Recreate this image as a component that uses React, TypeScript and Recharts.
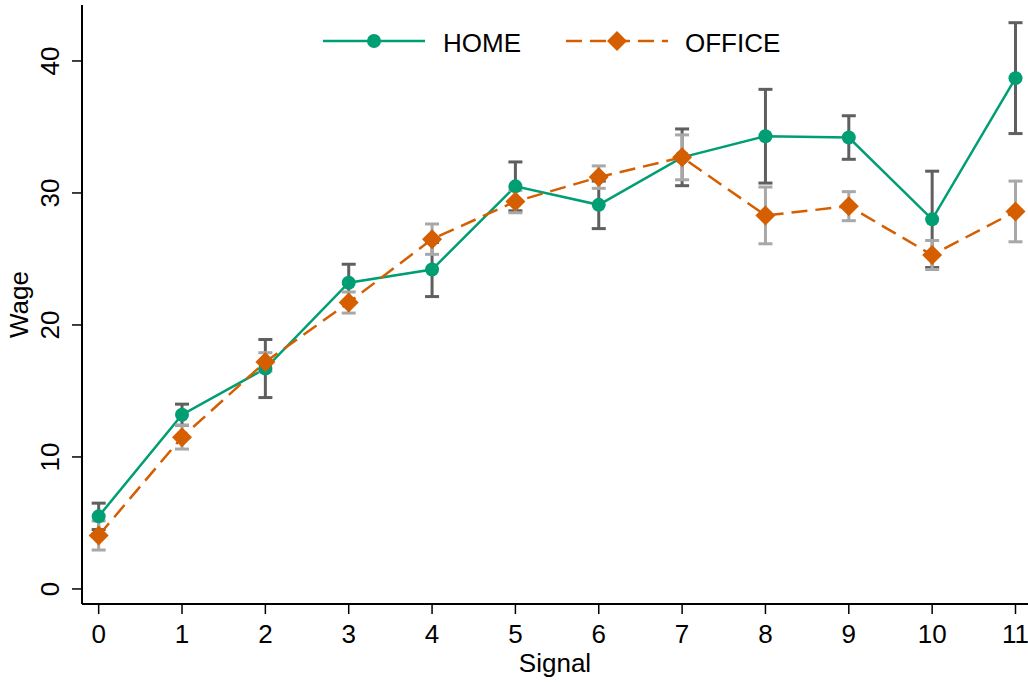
import { ErrorBar, Legend, Line, LineChart, XAxis, YAxis } from "recharts";

const signals = [0, 1, 2, 3, 4, 5, 6, 7, 8, 9, 10, 11];
const homeWage = [5.5, 13.2, 16.7, 23.2, 24.2, 30.5, 29.1, 32.7, 34.3, 34.2, 28.0, 38.7];
const homeErr = [1.0, 0.8, 2.2, 1.4, 2.05, 1.85, 1.8, 2.15, 3.55, 1.65, 3.65, 4.2];
const officeWage = [4.05, 11.5, 17.2, 21.7, 26.5, 29.35, 31.2, 32.7, 28.3, 29.0, 25.3, 28.6];
const officeErr = [1.1, 0.9, 0.7, 0.8, 1.15, 0.85, 0.85, 1.7, 2.15, 1.1, 1.1, 2.3];
const yTicks = [0, 10, 20, 30, 40];

const GREEN = "#009e73";
const ORANGE = "#d55e00";
const FONT = "'Liberation Sans', Arial, Helvetica, sans-serif";

const data = signals.map((s, i) => ({
  signal: s,
  home: homeWage[i],
  homeErr: homeErr[i],
  office: officeWage[i],
  officeErr: officeErr[i],
}));

function HomeDot(props: any) {
  const { cx, cy, index } = props;
  return <circle key={`h${index}`} cx={cx} cy={cy} r={7} fill={GREEN} />;
}

function OfficeDot(props: any) {
  const { cx, cy, index } = props;
  const r = 10;
  return (
    <path
      key={`o${index}`}
      d={`M${cx},${cy - r}L${cx + r},${cy}L${cx},${cy + r}L${cx - r},${cy}Z`}
      fill={ORANGE}
    />
  );
}

function YTick({ x, y, payload }: any) {
  return (
    <text
      x={x}
      y={y}
      transform={`rotate(-90, ${x}, ${y})`}
      textAnchor="middle"
      fontSize={26}
      fontFamily={FONT}
      fill="#000"
    >
      {payload.value}
    </text>
  );
}

function XTick({ x, y, payload }: any) {
  return (
    <text x={x} y={y} textAnchor="middle" fontSize={26} fontFamily={FONT} fill="#000">
      {payload.value}
    </text>
  );
}

function LegendBox() {
  return (
    <svg width={1028} height={70} style={{ display: "block" }}>
      <line x1={323} x2={425} y1={41} y2={41} stroke={GREEN} strokeWidth={2.5} />
      <circle cx={374} cy={41} r={7} fill={GREEN} />
      <text x={443} y={51.5} fontSize={26} fontFamily={FONT} fill="#000">
        HOME
      </text>
      <line x1={566} x2={668} y1={41} y2={41} stroke={ORANGE} strokeWidth={2.5} strokeDasharray="16 8" />
      <path d="M617,31L627,41L617,51L607,41Z" fill={ORANGE} />
      <text x={685} y={51.5} fontSize={26} fontFamily={FONT} fill="#000">
        OFFICE
      </text>
    </svg>
  );
}

export default function App() {
  return (
    <div style={{ position: "absolute", left: 0, top: 0, background: "#fff" }}>
      <LineChart width={1028} height={682} data={data} margin={{ top: 5, right: 0, left: 0, bottom: 0 }}>
        <XAxis
          dataKey="signal"
          type="number"
          domain={[-0.2, 11.15]}
          ticks={signals}
          allowDataOverflow
          height={78}
          tickSize={10}
          tickMargin={29}
          tick={<XTick />}
          stroke="#000"
          axisLine={{ stroke: "#000", strokeWidth: 2 }}
          tickLine={{ stroke: "#000", strokeWidth: 1.5 }}
          label={({ viewBox }: any) => (
            <text
              x={viewBox.x + viewBox.width / 2}
              y={viewBox.y + 68}
              textAnchor="middle"
              fontSize={26}
              fontFamily={FONT}
              fill="#000"
            >
              Signal
            </text>
          )}
        />
        <XAxis
          xAxisId="top"
          orientation="top"
          dataKey="signal"
          type="number"
          domain={[-0.2, 11.15]}
          height={0}
          tick={false}
          tickLine={false}
          axisLine={{ stroke: "#000", strokeWidth: 2 }}
        />
        <YAxis
          type="number"
          domain={[-1.14, 44.24]}
          ticks={yTicks}
          allowDataOverflow
          width={82}
          tickSize={10}
          tickMargin={13}
          tick={<YTick />}
          axisLine={{ stroke: "#000", strokeWidth: 2 }}
          tickLine={{ stroke: "#000", strokeWidth: 1.5 }}
          label={({ viewBox }: any) => {
            const lx = viewBox.x + 28;
            const ly = viewBox.y + viewBox.height / 2;
            return (
              <text
                x={lx}
                y={ly}
                transform={`rotate(-90, ${lx}, ${ly})`}
                textAnchor="middle"
                fontSize={26}
                fontFamily={FONT}
                fill="#000"
              >
                Wage
              </text>
            );
          }}
        />
        <Legend
          layout="vertical"
          align="center"
          verticalAlign="middle"
          content={() => <LegendBox />}
          wrapperStyle={{ position: "absolute", top: 0, left: 0, width: 1028 }}
        />
        <Line
          dataKey="home"
          name="HOME"
          stroke={GREEN}
          strokeWidth={2.5}
          dot={HomeDot}
          activeDot={false}
          isAnimationActive={false}
        >
          <ErrorBar dataKey="homeErr" direction="y" width={7} stroke="#5f5f5f" strokeWidth={3} isAnimationActive={false} />
        </Line>
        <Line
          dataKey="office"
          name="OFFICE"
          stroke={ORANGE}
          strokeWidth={2.5}
          strokeDasharray="16 8"
          dot={OfficeDot}
          activeDot={false}
          isAnimationActive={false}
        >
          <ErrorBar dataKey="officeErr" direction="y" width={7} stroke="#a8a8a8" strokeWidth={3} isAnimationActive={false} />
        </Line>
      </LineChart>
    </div>
  );
}
